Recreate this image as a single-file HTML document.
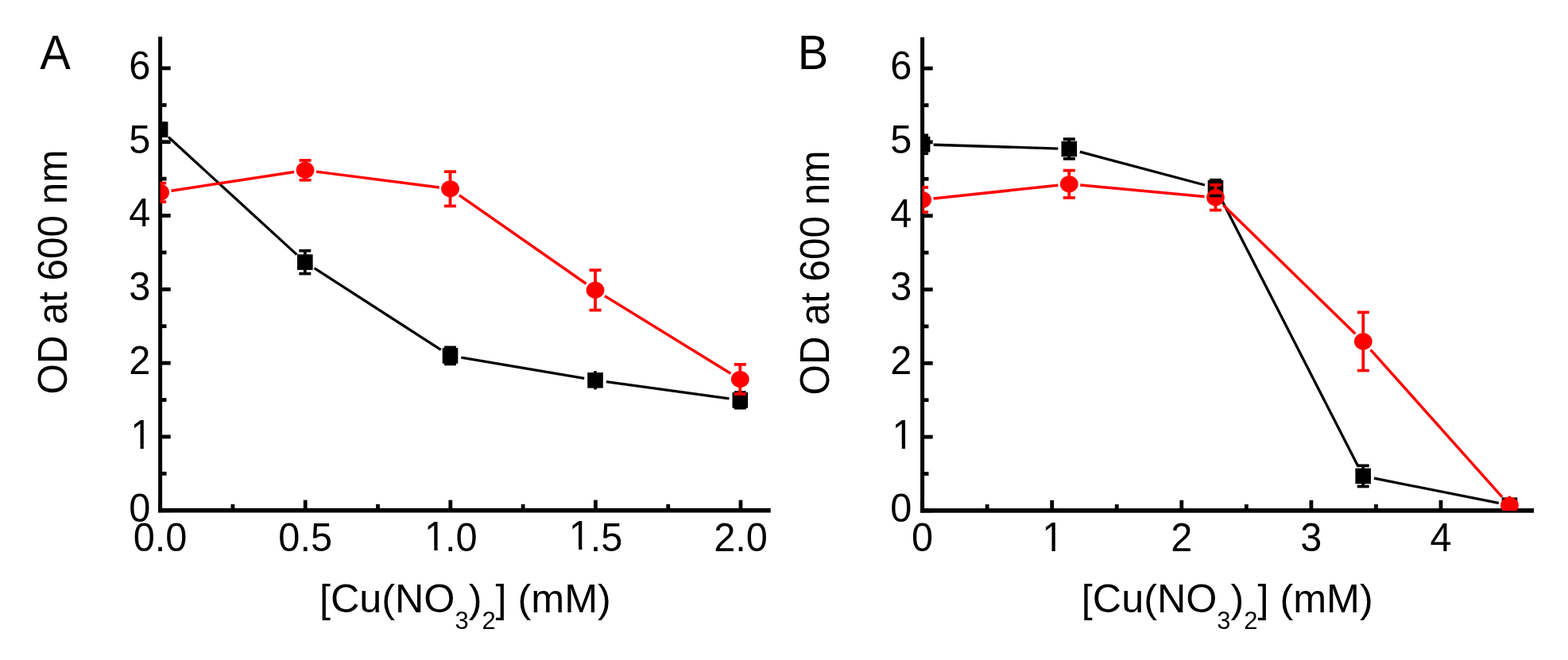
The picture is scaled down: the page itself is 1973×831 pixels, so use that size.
<!DOCTYPE html>
<html><head><meta charset="utf-8"><style>html,body{margin:0;padding:0;background:#fff;overflow:hidden}svg{display:block}</style></head>
<body>
<svg width="1973" height="831" viewBox="0 0 1973 831">
<style>text{stroke:none}</style>
<defs><clipPath id="onefoot" clipPathUnits="userSpaceOnUse"><rect x="-10" y="-80" width="60" height="75.56"/><rect x="12.25" y="-5.14" width="4.3" height="6"/></clipPath></defs>
<rect width="1973" height="831" fill="#fff"/>
<clipPath id="clipA"><rect x="201.6" y="0" width="768.1" height="642.7"/></clipPath>
<g fill="#000">
<rect x="199.1" y="46.2" width="5" height="599"/>
<rect x="199.1" y="639.85" width="770.6" height="5.6"/>
<rect x="203.6" y="640.3" width="11.1" height="4.8"/>
<rect x="203.6" y="547.5" width="11.1" height="4.8"/>
<rect x="203.6" y="454.7" width="11.1" height="4.8"/>
<rect x="203.6" y="361.9" width="11.1" height="4.8"/>
<rect x="203.6" y="269.1" width="11.1" height="4.8"/>
<rect x="203.6" y="176.3" width="11.1" height="4.8"/>
<rect x="203.6" y="83.5" width="11.1" height="4.8"/>
<rect x="203.6" y="593.9" width="5.9" height="4.8"/>
<rect x="203.6" y="501.1" width="5.9" height="4.8"/>
<rect x="203.6" y="408.3" width="5.9" height="4.8"/>
<rect x="203.6" y="315.5" width="5.9" height="4.8"/>
<rect x="203.6" y="222.7" width="5.9" height="4.8"/>
<rect x="203.6" y="129.9" width="5.9" height="4.8"/>
<rect x="199.2" y="629.6" width="4.8" height="11.1"/>
<rect x="381.8" y="629.6" width="4.8" height="11.1"/>
<rect x="564.4" y="629.6" width="4.8" height="11.1"/>
<rect x="747" y="629.6" width="4.8" height="11.1"/>
<rect x="929.6" y="629.6" width="4.8" height="11.1"/>
<rect x="290.5" y="634.8" width="4.8" height="5.9"/>
<rect x="473.1" y="634.8" width="4.8" height="5.9"/>
<rect x="655.7" y="634.8" width="4.8" height="5.9"/>
<rect x="838.3" y="634.8" width="4.8" height="5.9"/>
</g>
<g font-family='"Liberation Sans", sans-serif' font-size="48.7" fill="#000">
<text transform="translate(189.4,656.5) scale(1,1.035)" text-anchor="end">0</text>
<text transform="translate(189.4,470.9) scale(1,1.035)" text-anchor="end">2</text>
<text transform="translate(189.4,378.1) scale(1,1.035)" text-anchor="end">3</text>
<text transform="translate(189.4,285.3) scale(1,1.035)" text-anchor="end">4</text>
<text transform="translate(189.4,192.5) scale(1,1.035)" text-anchor="end">5</text>
<text transform="translate(189.4,99.7) scale(1,1.035)" text-anchor="end">6</text>
<text transform="translate(201.6,693.6) scale(1,1.035)" text-anchor="middle">0.0</text>
<text transform="translate(384.2,693.6) scale(1,1.035)" text-anchor="middle">0.5</text>
<text transform="translate(560.03,693.6) scale(1,1.035)">.0</text>
<text transform="translate(742.63,693.6) scale(1,1.035)">.5</text>
<text transform="translate(932,693.6) scale(1,1.035)" text-anchor="middle">2.0</text>
</g>
<g font-family='"Liberation Sans", sans-serif' font-size="48.7" fill="#000">
<g transform="translate(164.25,564.5) scale(1,1.065)"><text clip-path="url(#onefoot)">1</text></g>
<g transform="translate(534.05,692.6) scale(1,1.065)"><text clip-path="url(#onefoot)">1</text></g>
<g transform="translate(715.85,692.4) scale(1,1.065)"><text clip-path="url(#onefoot)">1</text></g>
</g>
<text transform="translate(50.19,86.6) scale(1,1.045)" font-family='"Liberation Sans", sans-serif' font-size="57.9" style="stroke:none">A</text>
<text transform="translate(83.5,342.5) rotate(-90) scale(1,1.035)" text-anchor="middle" font-family='"Liberation Sans", sans-serif' font-size="49.5">OD at 600 nm</text>
<text transform="translate(585.4,770.9)" text-anchor="middle" font-family='"Liberation Sans", sans-serif' font-size="50.3">[Cu(NO<tspan font-size="30.93" dy="21">3</tspan><tspan dy="-21">)</tspan><tspan font-size="30.93" dy="21">2</tspan><tspan dy="-21">] (mM)</tspan></text>
<g clip-path="url(#clipA)">
<path d="M211.92 172.56L373.48 320.64M395.57 337.69L554.73 440.31M580.3 450.24L735.2 476.46M762.87 480.71L917.43 501.99" stroke="#000" stroke-width="3.3" fill="none"/>
<path d="M215.44 240.23L370.16 216.47M397.89 216.13L552.61 236.02M577.98 245.82L737.52 357.28M760.92 372.64L919.38 470.16" stroke="#f00" stroke-width="3.5" fill="none"/>
<rect x="191.8" y="153.3" width="19.6" height="19.6" fill="#000"/>
<rect x="374" y="320.3" width="19.6" height="19.6" fill="#000"/>
<rect x="556.7" y="438.1" width="19.6" height="19.6" fill="#000"/>
<rect x="739.2" y="469" width="19.6" height="19.6" fill="#000"/>
<rect x="921.5" y="494.1" width="19.6" height="19.6" fill="#000"/>
<ellipse cx="201.6" cy="242.35" rx="11.4" ry="10.6" fill="#f00"/>
<ellipse cx="384" cy="214.35" rx="11.4" ry="10.6" fill="#f00"/>
<ellipse cx="566.5" cy="237.8" rx="11.4" ry="10.6" fill="#f00"/>
<ellipse cx="749" cy="365.3" rx="11.4" ry="10.6" fill="#f00"/>
<ellipse cx="931.3" cy="477.5" rx="11.4" ry="10.6" fill="#f00"/>
<g fill="#000"><rect x="194.1" y="153.25" width="15" height="3.7"/><rect x="194.1" y="169.25" width="15" height="3.7"/></g>
<g fill="#000"><rect x="381.9" y="315.65" width="3.8" height="5.15"/><rect x="381.9" y="339.4" width="3.8" height="5.15"/><rect x="376.3" y="313.8" width="15" height="3.7"/><rect x="376.3" y="342.7" width="15" height="3.7"/></g>
<g fill="#000"><rect x="564.6" y="437.4" width="3.8" height="1.2"/><rect x="564.6" y="457.2" width="3.8" height="1.2"/><rect x="559" y="435.55" width="15" height="3.7"/><rect x="559" y="456.55" width="15" height="3.7"/></g>
<rect fill="#000" x="747.1" y="467" width="3.8" height="23.6" rx="1"/>
<g fill="#000"><rect x="929.4" y="494.1" width="3.8" height="0.5"/><rect x="929.4" y="513.2" width="3.8" height="0.5"/><rect x="923.8" y="492.25" width="15" height="3.7"/><rect x="923.8" y="511.85" width="15" height="3.7"/></g>
<g fill="#f00"><rect x="199.7" y="230.6" width="3.8" height="1.65"/><rect x="199.7" y="252.45" width="3.8" height="1.65"/><rect x="194.1" y="228.75" width="15" height="3.7"/><rect x="194.1" y="252.25" width="15" height="3.7"/></g>
<g fill="#f00"><rect x="382.1" y="201.95" width="3.8" height="2.3"/><rect x="382.1" y="224.45" width="3.8" height="2.3"/><rect x="376.5" y="200.1" width="15" height="3.7"/><rect x="376.5" y="224.9" width="15" height="3.7"/></g>
<g fill="#f00"><rect x="564.6" y="216.15" width="3.8" height="11.55"/><rect x="564.6" y="247.9" width="3.8" height="11.55"/><rect x="559" y="214.3" width="15" height="3.7"/><rect x="559" y="257.6" width="15" height="3.7"/></g>
<g fill="#f00"><rect x="747.1" y="340.1" width="3.8" height="15.1"/><rect x="747.1" y="375.4" width="3.8" height="15.1"/><rect x="741.5" y="338.25" width="15" height="3.7"/><rect x="741.5" y="388.65" width="15" height="3.7"/></g>
<g fill="#f00"><rect x="929.4" y="458.9" width="3.8" height="8.5"/><rect x="929.4" y="487.6" width="3.8" height="8.5"/><rect x="923.8" y="457.05" width="15" height="3.7"/><rect x="923.8" y="494.25" width="15" height="3.7"/></g>
</g>
<clipPath id="clipB"><rect x="1160.6" y="0" width="769.4" height="642.9"/></clipPath>
<g fill="#000">
<rect x="1158.1" y="46.9" width="5" height="598.5"/>
<rect x="1158.1" y="640.05" width="771.9" height="5.6"/>
<rect x="1162.6" y="640.5" width="11.1" height="4.8"/>
<rect x="1162.6" y="547.7" width="11.1" height="4.8"/>
<rect x="1162.6" y="454.9" width="11.1" height="4.8"/>
<rect x="1162.6" y="362.1" width="11.1" height="4.8"/>
<rect x="1162.6" y="269.3" width="11.1" height="4.8"/>
<rect x="1162.6" y="176.5" width="11.1" height="4.8"/>
<rect x="1162.6" y="83.7" width="11.1" height="4.8"/>
<rect x="1162.6" y="594.1" width="5.9" height="4.8"/>
<rect x="1162.6" y="501.3" width="5.9" height="4.8"/>
<rect x="1162.6" y="408.5" width="5.9" height="4.8"/>
<rect x="1162.6" y="315.7" width="5.9" height="4.8"/>
<rect x="1162.6" y="222.9" width="5.9" height="4.8"/>
<rect x="1162.6" y="130.1" width="5.9" height="4.8"/>
<rect x="1158.2" y="629.8" width="4.8" height="11.1"/>
<rect x="1321.3" y="629.8" width="4.8" height="11.1"/>
<rect x="1484.4" y="629.8" width="4.8" height="11.1"/>
<rect x="1647.5" y="629.8" width="4.8" height="11.1"/>
<rect x="1810.6" y="629.8" width="4.8" height="11.1"/>
<rect x="1239.75" y="635" width="4.8" height="5.9"/>
<rect x="1402.85" y="635" width="4.8" height="5.9"/>
<rect x="1565.95" y="635" width="4.8" height="5.9"/>
<rect x="1729.05" y="635" width="4.8" height="5.9"/>
<rect x="1892.15" y="635" width="4.8" height="5.9"/>
</g>
<g font-family='"Liberation Sans", sans-serif' font-size="48.7" fill="#000">
<text transform="translate(1147.4,656.7) scale(1,1.035)" text-anchor="end">0</text>
<text transform="translate(1147.4,471.1) scale(1,1.035)" text-anchor="end">2</text>
<text transform="translate(1147.4,378.3) scale(1,1.035)" text-anchor="end">3</text>
<text transform="translate(1147.4,285.5) scale(1,1.035)" text-anchor="end">4</text>
<text transform="translate(1147.4,192.7) scale(1,1.035)" text-anchor="end">5</text>
<text transform="translate(1147.4,99.9) scale(1,1.035)" text-anchor="end">6</text>
<text transform="translate(1160.6,693.6) scale(1,1.035)" text-anchor="middle">0</text>
<text transform="translate(1486.8,693.6) scale(1,1.035)" text-anchor="middle">2</text>
<text transform="translate(1649.9,693.6) scale(1,1.035)" text-anchor="middle">3</text>
<text transform="translate(1813,693.6) scale(1,1.035)" text-anchor="middle">4</text>
</g>
<g font-family='"Liberation Sans", sans-serif' font-size="48.7" fill="#000">
<g transform="translate(1122.55,564.5) scale(1,1.065)"><text clip-path="url(#onefoot)">1</text></g>
<g transform="translate(1311.25,693.9) scale(1,1.065)"><text clip-path="url(#onefoot)">1</text></g>
</g>
<text transform="translate(1003.84,86.6) scale(1,1.045)" font-family='"Liberation Sans", sans-serif' font-size="57.9" style="stroke:none">B</text>
<text transform="translate(1042.5,343.5) rotate(-90) scale(1,1.035)" text-anchor="middle" font-family='"Liberation Sans", sans-serif' font-size="49.5">OD at 600 nm</text>
<text transform="translate(1544.3,770.9)" text-anchor="middle" font-family='"Liberation Sans", sans-serif' font-size="50.3">[Cu(NO<tspan font-size="30.93" dy="21">3</tspan><tspan dy="-21">)</tspan><tspan font-size="30.93" dy="21">2</tspan><tspan dy="-21">] (mM)</tspan></text>
<g clip-path="url(#clipB)">
<path d="M1174.59 182.23L1331.31 187.07M1358.83 191.11L1515.97 232.99M1535.88 249.06L1708.82 586.94M1728.93 602.14L1885.77 633.46" stroke="#000" stroke-width="3.3" fill="none"/>
<path d="M1174.52 250.02L1331.38 233.28M1359.24 233.08L1515.56 247.42M1539.52 258.47L1705.28 420.13M1724.62 440.35L1890.18 625.85" stroke="#f00" stroke-width="3.5" fill="none"/>
<rect x="1150.8" y="172" width="19.6" height="19.6" fill="#000"/>
<rect x="1335.5" y="177.7" width="19.6" height="19.6" fill="#000"/>
<rect x="1519.7" y="226.8" width="19.6" height="19.6" fill="#000"/>
<rect x="1705.4" y="589.6" width="19.6" height="19.6" fill="#000"/>
<rect x="1889.7" y="626.4" width="19.6" height="19.6" fill="#000"/>
<ellipse cx="1160.6" cy="251.5" rx="11.4" ry="10.6" fill="#f00"/>
<ellipse cx="1345.3" cy="231.8" rx="11.4" ry="10.6" fill="#f00"/>
<ellipse cx="1529.5" cy="248.7" rx="11.4" ry="10.6" fill="#f00"/>
<ellipse cx="1715.3" cy="429.9" rx="11.4" ry="10.6" fill="#f00"/>
<ellipse cx="1899.5" cy="636.3" rx="11.4" ry="10.6" fill="#f00"/>
<g fill="#000"><rect x="1158.7" y="170.3" width="3.8" height="2.2"/><rect x="1158.7" y="191.1" width="3.8" height="2.2"/><rect x="1153.1" y="168.45" width="15" height="3.7"/><rect x="1153.1" y="191.45" width="15" height="3.7"/></g>
<g fill="#000"><rect x="1343.4" y="175.1" width="3.8" height="3.1"/><rect x="1343.4" y="196.8" width="3.8" height="3.1"/><rect x="1337.8" y="173.25" width="15" height="3.7"/><rect x="1337.8" y="198.05" width="15" height="3.7"/></g>
<g fill="#000"><rect x="1527.6" y="226.7" width="3.8" height="0.6"/><rect x="1527.6" y="245.9" width="3.8" height="0.6"/><rect x="1522" y="224.85" width="15" height="3.7"/><rect x="1522" y="244.65" width="15" height="3.7"/></g>
<g fill="#000"><rect x="1713.3" y="586.3" width="3.8" height="3.8"/><rect x="1713.3" y="608.7" width="3.8" height="3.8"/><rect x="1707.7" y="584.45" width="15" height="3.7"/><rect x="1707.7" y="610.65" width="15" height="3.7"/></g>
<g fill="#f00"><rect x="1158.7" y="235.9" width="3.8" height="5.5"/><rect x="1158.7" y="261.6" width="3.8" height="5.5"/><rect x="1153.1" y="234.05" width="15" height="3.7"/><rect x="1153.1" y="265.25" width="15" height="3.7"/></g>
<g fill="#f00"><rect x="1343.4" y="214.6" width="3.8" height="7.1"/><rect x="1343.4" y="241.9" width="3.8" height="7.1"/><rect x="1337.8" y="212.75" width="15" height="3.7"/><rect x="1337.8" y="247.15" width="15" height="3.7"/></g>
<g fill="#f00"><rect x="1527.6" y="232.8" width="3.8" height="5.8"/><rect x="1527.6" y="258.8" width="3.8" height="5.8"/><rect x="1522" y="230.95" width="15" height="3.7"/><rect x="1522" y="262.75" width="15" height="3.7"/></g>
<g fill="#f00"><rect x="1713.4" y="393.25" width="3.8" height="26.55"/><rect x="1713.4" y="440" width="3.8" height="26.55"/><rect x="1707.8" y="391.4" width="15" height="3.7"/><rect x="1707.8" y="464.7" width="15" height="3.7"/></g>
<rect fill="#f00" x="1897.6" y="624.6" width="3.8" height="23.4" rx="1"/>
</g>
</svg>
</body></html>
